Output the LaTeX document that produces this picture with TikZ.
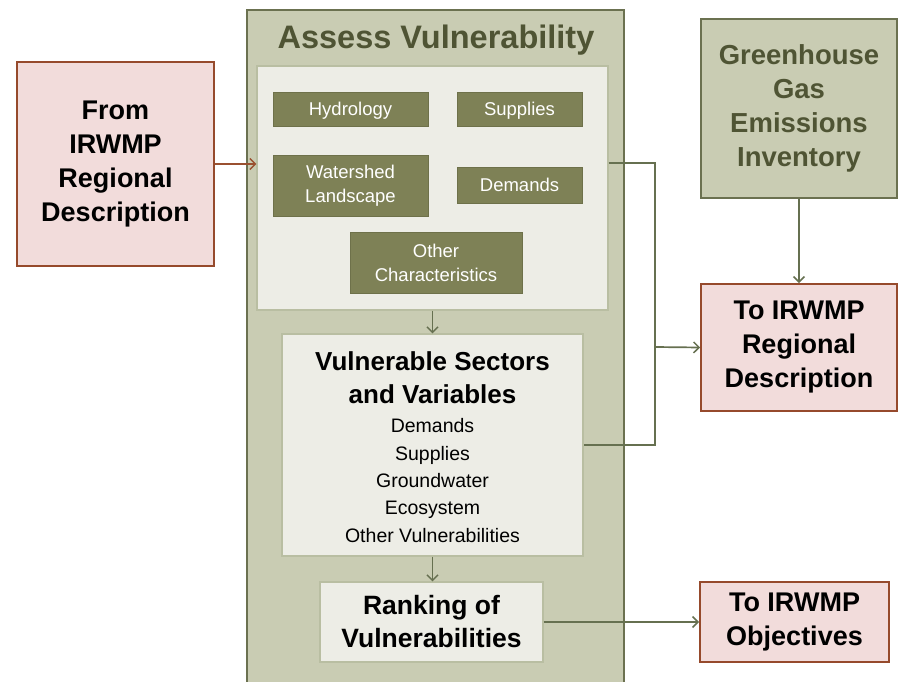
\documentclass[tikz,border=0pt]{standalone}
\usepackage{fontspec}
\setmainfont{Liberation Sans}
\usetikzlibrary{arrows.meta}
\definecolor{sage}{HTML}{C9CCB3}
\definecolor{sageborder}{HTML}{6B7150}
\definecolor{lightbox}{HTML}{EDEDE6}
\definecolor{lightborder}{HTML}{B9BEA2}
\definecolor{olivebox}{HTML}{7E8156}
\definecolor{oliveborder}{HTML}{6E714A}
\definecolor{pinkfill}{HTML}{F2DCDB}
\definecolor{pinkborder}{HTML}{964A2C}
\definecolor{darkolive}{HTML}{4F5434}
\definecolor{arrowolive}{HTML}{667050}
\definecolor{arrowbrown}{HTML}{9A5030}
\tikzset{
  box/.style={rectangle, inner sep=0pt, align=center},
  pinkbox/.style={box, fill=pinkfill, draw=pinkborder, line width=1.8pt, text=black,
    font=\bfseries\fontsize{27}{34}\selectfont},
  smallbox/.style={box, fill=olivebox, draw=oliveborder, line width=0.6pt, text=white,
    font=\fontsize{18.5}{24}\selectfont},
  oneline/.style={text height=13.5pt, text depth=0pt},
  lightnode/.style={box, fill=lightbox, draw=lightborder, line width=1.2pt},
  conn/.style={draw=arrowolive, line width=1.7pt},
  arr/.style={conn, -{Straight Barb[length=5.5pt,width=11pt,line width=1.5pt]}},
  brownarr/.style={draw=arrowbrown, line width=1.7pt, -{Straight Barb[length=5.5pt,width=11pt,line width=1.5pt]}},
}
\begin{document}
\begin{tikzpicture}[x=1pt,y=-1pt]
\useasboundingbox (0,0) rectangle (898,682);
\clip (0,0) rectangle (898,682);
\fill[white] (0,0) rectangle (898,682);
% outer container
\node[box, fill=sage, draw=sageborder, line width=1.8pt, minimum width=377, minimum height=680] (outer) at (435.5,350) {};
\node[anchor=base, text=darkolive, font=\bfseries\fontsize{32.5}{38}\selectfont, inner sep=0pt] (title) at (436,49) {Assess Vulnerability};
% inner light box
\node[lightnode, minimum width=351, minimum height=244] (inner) at (432.5,188) {};
\node[smallbox, oneline, minimum width=155, minimum height=34] (hyd) at (350.5,109) {Hydrology};
\node[smallbox, oneline, minimum width=125, minimum height=34] (sup) at (519.5,109) {Supplies};
\node[smallbox, minimum width=155, minimum height=61] (wat) at (350.5,185.5) {Watershed\\Landscape};
\node[smallbox, oneline, minimum width=125, minimum height=36] (dem) at (519.5,185) {Demands};
\node[smallbox, minimum width=172, minimum height=61] (oth) at (436,262.5) {Other\\Characteristics};
% vulnerable sectors
\node[lightnode, minimum width=301, minimum height=222] (vuln) at (432.5,445) {};
\node[box, anchor=base, font=\bfseries\fontsize{26}{33}\selectfont] (vt) at (432.5,403) {Vulnerable Sectors\\and Variables};
\node[box, anchor=base, font=\fontsize{19.5}{27.3}\selectfont] (vl) at (432.5,542) {Demands\\Supplies\\Groundwater\\Ecosystem\\Other Vulnerabilities};
% ranking
\node[lightnode, minimum width=223, minimum height=80, font=\bfseries\fontsize{26.5}{33}\selectfont] (rank) at (431.5,622) {Ranking of\\Vulnerabilities};
% left pink box
\node[pinkbox, minimum width=197, minimum height=204] (from) at (115.5,164) {From\\IRWMP\\Regional\\Description};
% greenhouse
\node[box, fill=sage, draw=sageborder, line width=1.8pt, text=darkolive, font=\bfseries\fontsize{27.5}{34}\selectfont, minimum width=196, minimum height=179] (ghg) at (799,108.5) {Greenhouse\\Gas\\Emissions\\Inventory};
% right pink boxes
\node[pinkbox, minimum width=196, minimum height=127] (toreg) at (799,347.5) {To IRWMP\\Regional\\Description};
\node[pinkbox, minimum width=189, minimum height=80] (obj) at (794.5,622) {To IRWMP\\Objectives};
% connectors
\coordinate (j1) at (655,163);
\coordinate (j2) at (655,445);
\coordinate (j3) at (655,347);
\draw[brownarr] (from.east) -- (from.east -| inner.west);
\draw[conn] (inner.east |- j1) -- (j1) -- (j2) -- (vuln.east);
\draw[arr] (j3) -- (toreg.west);
\draw[arr] (ghg.south) -- (toreg.north);
\draw[arr] (inner.south) -- (vuln.north);
\draw[arr] (vuln.south) -- (vuln.south |- rank.north);
\draw[arr] (rank.east) -- (rank.east -| obj.west);
\end{tikzpicture}
\end{document}
